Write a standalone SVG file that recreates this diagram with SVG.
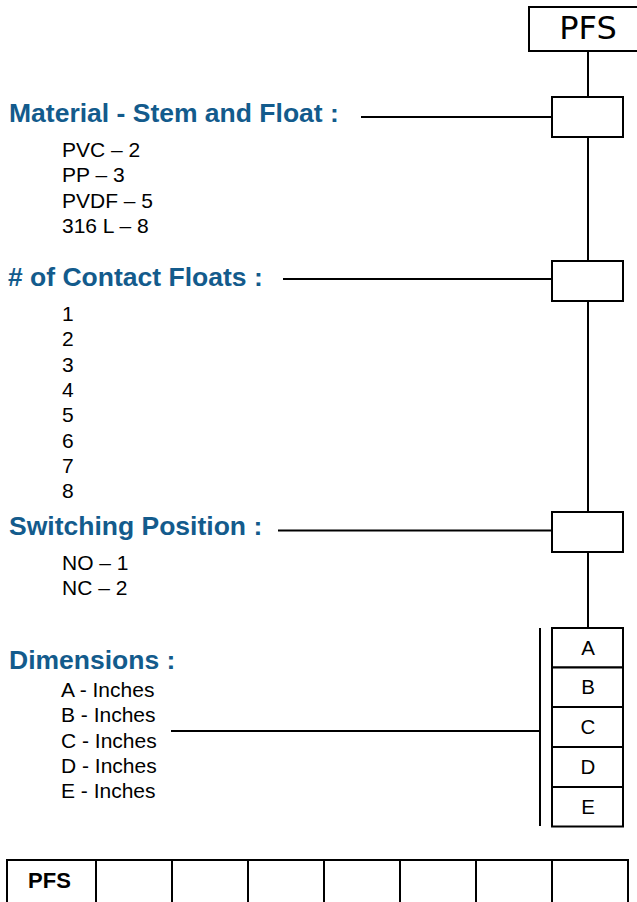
<svg xmlns="http://www.w3.org/2000/svg" width="637" height="902" viewBox="0 0 637 902">
<style>
.bx{fill:#fff;stroke:#000;stroke-width:2}
.ln{stroke:#000;stroke-width:2;fill:none}
.hd{font-family:"Liberation Sans",Arial,sans-serif;font-weight:bold;font-size:26.5px;fill:#135b8c}
.it{font-family:"Liberation Sans",Arial,sans-serif;font-size:21px;fill:#000}
.lt{font-family:"Liberation Sans",Arial,sans-serif;font-size:20.5px;fill:#000;text-anchor:middle}
.ttl{font-family:"DejaVu Sans",sans-serif;font-size:32px;fill:#000;text-anchor:middle}
.tb{font-family:"Liberation Sans",Arial,sans-serif;font-weight:bold;font-size:22px;fill:#000;text-anchor:middle}
</style>
<rect width="637" height="902" fill="#fff"/>
<g id="connectors">
<line class="ln" x1="588" y1="51" x2="588" y2="97"/>
<line class="ln" x1="588" y1="137" x2="588" y2="261"/>
<line class="ln" x1="588" y1="301" x2="588" y2="512"/>
<line class="ln" x1="588" y1="552" x2="588" y2="628"/>
<line class="ln" x1="361" y1="117" x2="552" y2="117"/>
<line class="ln" x1="283" y1="279" x2="552" y2="279"/>
<line class="ln" x1="278" y1="530.5" x2="552" y2="530.5"/>
<line class="ln" x1="171" y1="731" x2="540" y2="731"/>
<line class="ln" x1="540" y1="628" x2="540" y2="826"/>
</g>
<g id="pfs-title">
<rect class="bx" x="529" y="7" width="110" height="44"/>
<text class="ttl" x="588" y="38.5">PFS</text>
</g>
<g id="material">
<rect class="bx" x="552" y="97" width="71" height="40"/>
<text class="hd" x="9" y="122">Material - Stem and Float :</text>
<text class="it" x="62" y="156.5">PVC – 2</text>
<text class="it" x="62" y="182">PP – 3</text>
<text class="it" x="62" y="207.5">PVDF – 5</text>
<text class="it" x="62" y="233">316 L – 8</text>
</g>
<g id="contact-floats">
<rect class="bx" x="552" y="261" width="71" height="40"/>
<text class="hd" x="8" y="285.5"># of Contact Floats :</text>
<text class="it" x="62" y="321">1</text>
<text class="it" x="62" y="346.3">2</text>
<text class="it" x="62" y="371.6">3</text>
<text class="it" x="62" y="396.9">4</text>
<text class="it" x="62" y="422.2">5</text>
<text class="it" x="62" y="447.5">6</text>
<text class="it" x="62" y="472.8">7</text>
<text class="it" x="62" y="498">8</text>
</g>
<g id="switching-position">
<rect class="bx" x="552" y="512" width="71" height="40"/>
<text class="hd" x="9" y="535">Switching Position :</text>
<text class="it" x="62" y="570">NO – 1</text>
<text class="it" x="62" y="595">NC – 2</text>
</g>
<g id="dimensions">
<text class="hd" x="9" y="669">Dimensions :</text>
<text class="it" x="61" y="697">A - Inches</text>
<text class="it" x="61" y="722">B - Inches</text>
<text class="it" x="61" y="747.5">C - Inches</text>
<text class="it" x="61" y="772.5">D - Inches</text>
<text class="it" x="61" y="797.5">E - Inches</text>
<rect class="bx" x="552" y="628" width="71" height="39.5"/>
<rect class="bx" x="552" y="667.5" width="71" height="39.5"/>
<rect class="bx" x="552" y="707" width="71" height="40"/>
<rect class="bx" x="552" y="747" width="71" height="40"/>
<rect class="bx" x="552" y="787" width="71" height="39.5"/>
<text class="lt" x="588" y="655">A</text>
<text class="lt" x="588" y="694">B</text>
<text class="lt" x="588" y="734">C</text>
<text class="lt" x="588" y="774">D</text>
<text class="lt" x="588" y="814">E</text>
</g>
<g id="part-number-table">
<rect class="bx" x="7" y="860" width="89" height="44"/>
<rect class="bx" x="96" y="860" width="76" height="44"/>
<rect class="bx" x="172" y="860" width="76" height="44"/>
<rect class="bx" x="248" y="860" width="76" height="44"/>
<rect class="bx" x="324" y="860" width="76" height="44"/>
<rect class="bx" x="400" y="860" width="76" height="44"/>
<rect class="bx" x="476" y="860" width="76" height="44"/>
<rect class="bx" x="552" y="860" width="76" height="44"/>
<text class="tb" x="49.5" y="888">PFS</text>
</g>
</svg>
